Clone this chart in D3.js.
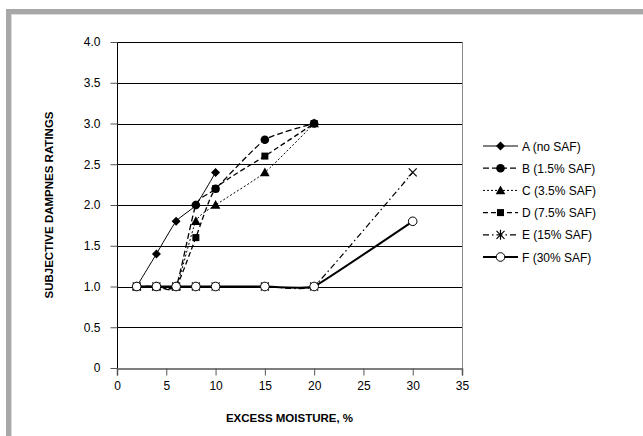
<!DOCTYPE html>
<html><head><meta charset="utf-8">
<script src="https://cdn.jsdelivr.net/npm/d3@7"></script>
<style>body{margin:0;background:#fff}svg{display:block}text{font-family:"Liberation Sans",Arial,sans-serif}</style>
</head><body><svg id="c" width="643" height="436"></svg>
<script>
const seriesNames = ["A (no SAF)","B (1.5% SAF)","C (3.5% SAF)","D (7.5% SAF)","E (15% SAF)","F (30% SAF)"];
const xA = [2,4,6,8,10];
const yA = [1.0,1.4,1.8,2.0,2.4];
const xB = [2,4,6,8,10,15,20];
const yB = [1.0,1.0,1.0,2.0,2.2,2.8,3.0];
const xC = [2,4,6,8,10,15,20];
const yC = [1.0,1.0,1.0,1.8,2.0,2.4,3.0];
const xD = [2,4,6,8,10,15,20];
const yD = [1.0,1.0,1.0,1.6,2.2,2.6,3.0];
const xE = [2,4,6,8,10,15,20,30];
const yE = [1.0,1.0,1.0,1.0,1.0,1.0,1.0,2.4];
const xF = [2,4,6,8,10,15,20,30];
const yF = [1.0,1.0,1.0,1.0,1.0,1.0,1.0,1.8];
const xTicks = [0,5,10,15,20,25,30,35];
const yTicks = [0,0.5,1.0,1.5,2.0,2.5,3.0,3.5,4.0];
const xTitle = "EXCESS MOISTURE, %";
const yTitle = "SUBJECTIVE DAMPNES RATINGS";

const svg = d3.select("#c");
// frame (top and left shadow border)
svg.append("rect").attr("x",6).attr("y",9).attr("width",643).attr("height",5).attr("fill","#a8a8a8");
svg.append("rect").attr("x",6).attr("y",9).attr("width",5).attr("height",436).attr("fill","#a8a8a8");
svg.append("rect").attr("x",11).attr("y",14).attr("width",640).attr("height",1).attr("fill","#dcdcdc");
svg.append("rect").attr("x",11).attr("y",14).attr("width",1).attr("height",430).attr("fill","#dcdcdc");

const L=117,R=462,T=42,B=368;
const x = d3.scaleLinear().domain([0,35]).range([L,R]);
const y = d3.scaleLinear().domain([0,4]).range([B,T]);
const g = svg.append("g");

// gridlines
g.selectAll("line.grid").data(yTicks.filter(d=>d>0)).join("line")
 .attr("x1",L).attr("x2",R).attr("y1",d=>Math.round(y(d))+0.5).attr("y2",d=>Math.round(y(d))+0.5)
 .attr("stroke","#000").attr("stroke-width",1);
// right border
g.append("line").attr("x1",R+0.5).attr("x2",R+0.5).attr("y1",T).attr("y2",B).attr("stroke","#888");

// axes
const xAxis = d3.axisBottom(x).tickValues(xTicks).tickSize(7).tickPadding(6).tickFormat(d3.format("d"));
const gx = g.append("g").attr("transform",`translate(0,${Math.round(B)+0.5})`).call(xAxis);
gx.select(".domain").attr("stroke","#555").attr("stroke-width",1.5);
gx.selectAll(".tick line").attr("stroke","#555");
gx.selectAll("text").attr("font-size",12).attr("fill","#000");
const yAxis = d3.axisLeft(y).tickValues(yTicks).tickSize(7).tickPadding(10).tickFormat(d=>d===0?"0":d3.format(".1f")(d));
const gy = g.append("g").attr("transform",`translate(${L+0.5},0)`).call(yAxis);
gy.select(".domain").attr("stroke","#000").attr("d",`M0,${T}V${B}`);
gy.selectAll(".tick line").attr("stroke","#555");
gy.selectAll("text").attr("font-size",12).attr("fill","#000");

// titles
svg.append("text").attr("x",(L+R)/2).attr("y",422).attr("text-anchor","middle")
 .attr("font-size",11.5).attr("font-weight","bold").text(xTitle);
svg.append("text").attr("transform",`translate(53,${(T+B)/2}) rotate(-90)`).attr("text-anchor","middle")
 .attr("font-size",11.5).attr("font-weight","bold").text(yTitle);

const smooth = d3.curveCardinal.tension(0.45), stiff = d3.curveCardinal.tension(0.75);
const series = [
 {n:seriesNames[0],xs:xA,ys:yA,dash:null,w:1,m:"diamond",c:smooth},
 {n:seriesNames[1],xs:xB,ys:yB,dash:"6,3",w:1.3,m:"circle",c:smooth},
 {n:seriesNames[2],xs:xC,ys:yC,dash:"2,2",w:1,m:"triangle",c:smooth},
 {n:seriesNames[3],xs:xD,ys:yD,dash:"5,3",w:1.3,m:"square",c:smooth},
 {n:seriesNames[4],xs:xE,ys:yE,dash:"6,3,1.5,3",w:1.2,m:"x",c:stiff},
 {n:seriesNames[5],xs:xF,ys:yF,dash:null,w:2,m:"open",c:stiff}
];

function marker(sel,type,cx,cy,legend){
  if(type==="diamond") sel.append("path").attr("d",`M${cx},${cy-4.5}L${cx+4.5},${cy}L${cx},${cy+4.5}L${cx-4.5},${cy}Z`).attr("fill","#000");
  else if(type==="circle") sel.append("circle").attr("cx",cx).attr("cy",cy).attr("r",4.3).attr("fill","#000");
  else if(type==="triangle") sel.append("path").attr("d",`M${cx},${cy-5}L${cx+4.8},${cy+3.8}L${cx-4.8},${cy+3.8}Z`).attr("fill","#000");
  else if(type==="square") sel.append("rect").attr("x",cx-3.5).attr("y",cy-3.5).attr("width",7).attr("height",7).attr("fill","#000");
  else if(type==="x"){
    sel.append("path").attr("d",`M${cx-4},${cy-4}L${cx+4},${cy+4}M${cx-4},${cy+4}L${cx+4},${cy-4}`+(legend?`M${cx},${cy-5}V${cy+5}`:"")).attr("stroke","#000").attr("stroke-width",1.2).attr("fill","none");
  }
  else if(type==="open") sel.append("circle").attr("cx",cx).attr("cy",cy).attr("r",4.3).attr("fill","#fff").attr("stroke","#000").attr("stroke-width",1);
}

const gl = svg.append("g"), gm = svg.append("g");
series.forEach(s=>{
  const pts = s.xs.map((v,i)=>[v,s.ys[i]]);
  const line = d3.line().curve(s.c).x(d=>x(d[0])).y(d=>y(d[1]));
  gl.append("path").attr("d",line(pts)).attr("fill","none").attr("stroke","#000")
    .attr("stroke-width",s.w).attr("stroke-dasharray",s.dash);
  pts.forEach(p=>marker(gm,s.m,x(p[0]),y(p[1]),false));
});

// legend
const lg = svg.append("g");
series.forEach((s,i)=>{
  const yy = 146 + i*22.2;
  lg.append("line").attr("x1",483).attr("x2",518).attr("y1",yy).attr("y2",yy).attr("stroke","#000")
    .attr("stroke-width",s.w).attr("stroke-dasharray",s.dash);
  marker(lg,s.m,500.5,yy,true);
  lg.append("text").attr("x",522).attr("y",yy+4.5).attr("font-size",12).text(s.n);
});
</script></body></html>
